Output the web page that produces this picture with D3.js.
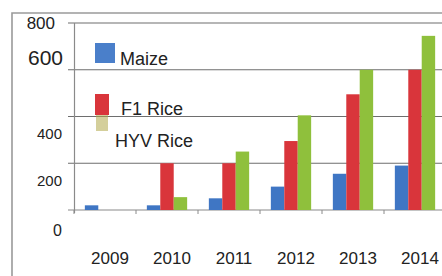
<!DOCTYPE html>
<html lang="en">
  <head>
    <meta charset="UTF-8" />
    <title>Maize and Rice</title>
    <script src="https://d3js.org/d3.v7.min.js"></script>
    <style>
      body {
        margin: 0;
        background: #fff;
        overflow: hidden;
      }
      svg text {
        font-family: "Liberation Sans", Arial, sans-serif;
        fill: #222;
      }
    </style>
  </head>
  <body>
    <svg id="chart" width="442" height="276"></svg>
    <script>
      // values
      const years = ["2009", "2010", "2011", "2012", "2013", "2014"];
      const seriesNames = ["Maize", "F1 Rice", "HYV Rice"];
      const maize = [20, 20, 50, 100, 155, 190];
      const f1Rice = [0, 200, 200, 295, 495, 600];
      const hyvRice = [0, 55, 250, 405, 600, 745];
      const yTicks = [0, 200, 400, 600, 800];

      const colors = ["#3f76c4", "#d9353b", "#8fc03c"];
      const seriesValues = [maize, f1Rice, hyvRice];

      const width = 442,
        height = 276;
      const svg = d3.select("#chart");

      const x = d3
        .scaleBand()
        .domain(years)
        .range([74, 446])
        .paddingInner(0.35)
        .paddingOuter(0.175);

      const xSub = d3
        .scaleBand()
        .domain(seriesNames)
        .range([0, x.bandwidth()]);

      const y = d3.scaleLinear().domain([0, 800]).range([210, 23]);

      // outer frame (left + top)
      svg
        .append("path")
        .attr("d", `M12,${height} V13 H${width}`)
        .attr("fill", "none")
        .attr("stroke", "#9a9a9a")
        .attr("stroke-width", 1.6);

      // gridlines + left ticks
      svg
        .append("g")
        .selectAll("line")
        .data(yTicks.filter((d) => d > 0))
        .join("line")
        .attr("x1", 68)
        .attr("x2", width)
        .attr("y1", (d) => y(d))
        .attr("y2", (d) => y(d))
        .attr("stroke", "#6e6e6e")
        .attr("stroke-width", 1.2);

      // y axis line
      svg
        .append("line")
        .attr("x1", 74.5)
        .attr("x2", 74.5)
        .attr("y1", y(800))
        .attr("y2", y(0) + 3)
        .attr("stroke", "#8a8a8a")
        .attr("stroke-width", 1.2);

      // x axis baseline with ticks at band edges
      const xAxis = d3
        .axisBottom(x)
        .tickSize(0)
        .tickFormat("");
      const xg = svg
        .append("g")
        .attr("transform", `translate(0,${y(0)})`)
        .call(xAxis);
      xg.select(".domain").remove();
      xg.append("line")
        .attr("x1", 68)
        .attr("x2", width)
        .attr("stroke", "#8a8a8a")
        .attr("stroke-width", 1.2);
      xg.selectAll(".edge")
        .data(years)
        .join("line")
        .attr("class", "edge")
        .attr("x1", (d) => x(d) - x.step() * x.paddingInner() / 2 - x.step() * 0.0)
        .attr("x2", (d) => x(d) - x.step() * x.paddingInner() / 2)
        .attr("y1", 0)
        .attr("y2", 4)
        .attr("stroke", "#8a8a8a");

      // bars
      const groups = svg
        .append("g")
        .selectAll("g")
        .data(years)
        .join("g")
        .attr("transform", (d) => `translate(${x(d)},0)`);

      groups
        .selectAll("rect")
        .data((yr, i) =>
          seriesNames.map((s, k) => ({ s, k, v: seriesValues[k][i] }))
        )
        .join("rect")
        .attr("x", (d) => xSub(d.s))
        .attr("width", xSub.bandwidth())
        .attr("y", (d) => y(d.v))
        .attr("height", (d) => y(0) - y(d.v))
        .attr("fill", (d) => colors[d.k]);

      // y tick labels (nudged like the original scan)
      const tickLabelStyle = {
        0: { dy: 20, size: 16, x: 62 },
        200: { dy: 17, size: 15, x: 62 },
        400: { dy: 17, size: 15, x: 62 },
        600: { dy: -12, size: 21, x: 63 },
        800: { dy: 0, size: 17, x: 55 },
      };
      svg
        .append("g")
        .selectAll("text")
        .data(yTicks)
        .join("text")
        .attr("x", (d) => tickLabelStyle[d].x)
        .attr("y", (d) => y(d) + tickLabelStyle[d].dy)
        .attr("dy", "0.35em")
        .attr("text-anchor", "end")
        .attr("font-size", (d) => tickLabelStyle[d].size)
        .text((d) => d);

      // year labels
      svg
        .append("g")
        .selectAll("text")
        .data(years)
        .join("text")
        .attr("x", (d) => x(d) + x.bandwidth() / 2 + 5)
        .attr("y", 258)
        .attr("dy", "0.35em")
        .attr("text-anchor", "middle")
        .attr("font-size", 17)
        .text((d) => d);

      // legend
      const legend = svg.append("g");
      legend
        .append("rect")
        .attr("x", 95)
        .attr("y", 43)
        .attr("width", 20)
        .attr("height", 20)
        .attr("fill", "#4a7fca");
      legend
        .append("text")
        .attr("x", 120)
        .attr("y", 65)
        .attr("font-size", 18)
        .text(seriesNames[0]);

      legend
        .append("rect")
        .attr("x", 96)
        .attr("y", 113)
        .attr("width", 12)
        .attr("height", 18)
        .attr("fill", "#b0a848")
        .attr("opacity", 0.55);
      legend
        .append("rect")
        .attr("x", 95)
        .attr("y", 94)
        .attr("width", 14)
        .attr("height", 21)
        .attr("fill", colors[1]);
      legend
        .append("text")
        .attr("x", 121)
        .attr("y", 115)
        .attr("font-size", 18)
        .text(seriesNames[1]);
      legend
        .append("text")
        .attr("x", 115)
        .attr("y", 147)
        .attr("font-size", 18)
        .text(seriesNames[2]);
    </script>
  </body>
</html>
